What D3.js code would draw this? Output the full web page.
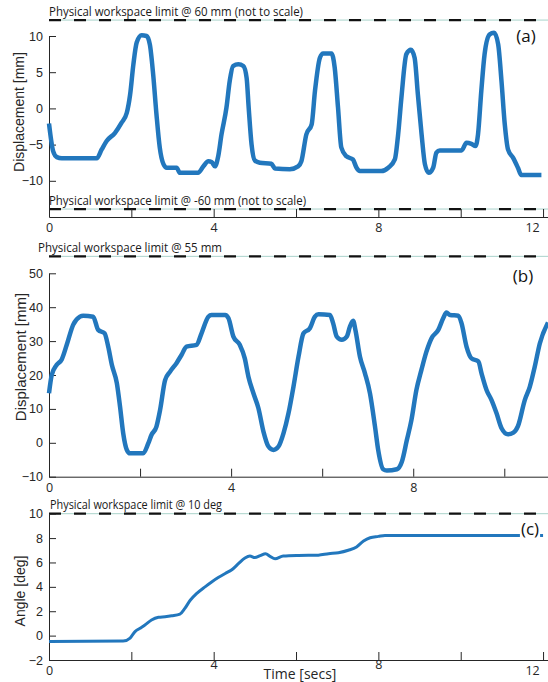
<!DOCTYPE html>
<html><head><meta charset="utf-8">
<script src="https://cdn.jsdelivr.net/npm/d3@7"></script>
<style>body{margin:0;background:#fff}svg{display:block}</style>
</head><body>
<script>
// ---- Data ----
// Panel (a): displacement [mm] vs time [s]
const tA = [0,0.1,0.19,0.31,1.16,1.28,1.4,1.6,1.76,1.89,1.97,2.05,2.13,2.25,2.37,2.45,2.53,2.61,2.69,2.78,2.86,3.1,3.18,3.62,3.75,3.87,3.95,4.03,4.11,4.19,4.31,4.39,4.47,4.6,4.72,4.8,4.85,4.92,5.0,5.12,5.4,5.49,5.85,6.05,6.13,6.25,6.38,6.46,6.58,6.66,6.86,6.94,7.02,7.1,7.22,7.38,7.47,7.55,8.07,8.24,8.4,8.48,8.56,8.68,8.79,8.88,8.96,9.05,9.13,9.22,9.33,9.41,9.49,10.02,10.14,10.26,10.36,10.42,10.5,10.58,10.7,10.81,10.91,10.99,11.07,11.15,11.27,11.39,11.47,11.96];
const vA = [-2.1,-5.9,-6.73,-6.9,-6.9,-5.67,-4.5,-3.4,-2.0,-0.6,1.9,6.1,9.1,10.1,10.0,8.8,4.7,-0.8,-5.4,-7.7,-8.2,-8.2,-8.9,-8.9,-8.0,-7.3,-7.4,-8.0,-6.6,-3.6,0.1,3.8,5.85,6.1,5.85,4.2,0.1,-5.0,-7.2,-7.5,-7.65,-8.3,-8.4,-8.0,-7.3,-3.6,-2.2,2.4,7.0,7.6,7.6,5.6,0.1,-5.4,-6.6,-7.05,-8.2,-8.66,-8.66,-8.2,-7.05,-3.6,1.5,7.5,8.1,7.0,1.9,-3.6,-7.7,-8.9,-8.2,-6.1,-5.8,-5.8,-4.75,-4.9,-5.2,-3.6,2.4,7.5,10.2,10.46,8.85,3.8,-2.2,-5.7,-6.8,-8.2,-9.2,-9.2];
// Panel (b): displacement [mm] vs time [s]
const tB = [0,0.06,0.17,0.28,0.39,0.53,0.68,0.75,0.97,1.08,1.22,1.3,1.38,1.49,1.56,1.63,1.71,1.78,2.07,2.18,2.25,2.36,2.44,2.55,2.66,2.8,2.91,3.02,3.24,3.35,3.5,3.57,3.87,3.94,4.05,4.19,4.3,4.38,4.49,4.6,4.71,4.82,4.93,5.04,5.15,5.26,5.37,5.48,5.59,5.73,5.84,5.92,6.17,6.24,6.32,6.43,6.54,6.61,6.68,6.73,6.83,6.94,7.05,7.16,7.23,7.34,7.42,7.64,7.75,7.86,7.96,8.07,8.18,8.29,8.4,8.55,8.66,8.73,8.81,8.99,9.06,9.17,9.28,9.43,9.5,9.61,9.72,9.83,9.94,10.08,10.2,10.3,10.45,10.56,10.67,10.78,10.96];
const vB = [14.6,20,23,24.6,28.9,34.8,37.2,37.5,37.2,33.3,32.3,28.4,23,17.6,10.7,2.8,-2.1,-3.1,-3.1,-0.2,2.3,4.8,9.7,18.5,21,23.5,25.9,28.4,28.9,32.3,37.2,37.7,37.7,36.8,31.3,28.9,24.9,19.5,14.6,10.2,3.3,-1.1,-2.1,-1.1,2.8,8.7,16.6,25.4,32.3,33.8,37.2,37.9,37.7,35.3,31.3,30.4,31.3,34.3,36,33.3,25.4,20.5,14.6,4.8,-2.1,-7.8,-8.2,-7.8,-5.6,0.8,6.7,15.6,21.5,26.9,30.8,33.3,36.8,38.4,37.7,37.5,35.3,28.4,24.9,24,20.5,15.6,12.6,8.7,4.3,2.5,3,4.9,12.6,16.5,22.5,29.3,35.5];
// Panel (c): angle [deg] vs time [s]
const tC = [0,1.8,1.97,2.09,2.21,2.33,2.49,2.66,2.82,2.98,3.18,3.3,3.43,3.59,3.79,3.95,4.11,4.28,4.44,4.6,4.76,4.88,5.0,5.13,5.26,5.37,5.49,5.69,6.06,6.54,6.79,7.03,7.27,7.47,7.64,7.8,8.0,8.16,12];
const vC = [-0.49,-0.45,-0.2,0.33,0.6,0.87,1.28,1.5,1.55,1.63,1.77,2.23,2.9,3.46,4.0,4.4,4.76,5.1,5.4,5.9,6.37,6.53,6.4,6.56,6.72,6.5,6.3,6.53,6.58,6.6,6.72,6.8,7.0,7.27,7.76,8.03,8.14,8.22,8.22];
// Workspace limits (a: drawn "not to scale" positions)
const limitA = [12.2, -13.9];
const limitB = [55];
const limitC = [10];
const limitTextA = ["Physical workspace limit @ 60 mm (not to scale)", "Physical workspace limit @ -60 mm (not to scale)"];
const limitTextB = ["Physical workspace limit  @ 55 mm"];
const limitTextC = ["Physical workspace limit @ 10 deg"];
const yTicksA = [-10,-5,0,5,10];
const yTicksB = [-10,0,10,20,30,40,50];
const yTicksC = [-2,0,2,4,6,8,10];
const xTicks = [0,2,4,6,8,10,12];

// ---- Drawing ----
const W = 548, H = 682;
const svg = d3.select("body").append("svg").attr("width", W).attr("height", H);
const BLUE = "#2277bd", AX = "#262626";
const tickFont = "'Liberation Sans', Arial, sans-serif";
const myriad = "'Open Sans', 'Noto Sans', sans-serif";

function panel(opt) {
  const g = svg.append("g");
  const x = d3.scaleLinear().domain(opt.xDomain).range([49, 548]);
  const y = d3.scaleLinear().domain(opt.yDomain).range(opt.yRange);

  // dashed limit lines
  opt.limits.forEach((L, i) => {
    const yy = y(L);
    g.append("line").attr("x1", 49).attr("x2", 548).attr("y1", yy).attr("y2", yy)
      .attr("stroke", "#a9d3cb").attr("stroke-width", 1);
    g.append("line").attr("x1", 49).attr("x2", 548).attr("y1", yy).attr("y2", yy)
      .attr("stroke", "#111").attr("stroke-width", 2.2).attr("stroke-dasharray", "12,13");
    g.append("text").attr("x", opt.limitTextX[i]).attr("y", yy - opt.limitTextGap[i])
      .attr("font-family", myriad).attr("font-size", 12.5).attr("fill", "#1a1a1a")
      .attr("textLength", opt.limitTextLen[i]).attr("lengthAdjust", "spacingAndGlyphs")
      .text(opt.limitText[i]);
  });

  // axes
  const ya = g.append("g").attr("transform", "translate(49,0)")
    .call(d3.axisLeft(y).tickValues(opt.yTicks).tickSizeInner(-7).tickSizeOuter(0).tickPadding(6));
  ya.selectAll("text").attr("font-family", tickFont).attr("font-size", 12.5).attr("fill", AX);
  const xa = g.append("g").attr("transform", `translate(0,${opt.yRange[0]})`)
    .call(d3.axisBottom(x).tickValues(opt.xTicks).tickSizeInner(-8).tickSizeOuter(0).tickPadding(6)
      .tickFormat(d => d % 4 === 0 ? d : ""));
  xa.selectAll("text").attr("font-family", myriad).attr("font-size", 12.5).attr("fill", AX);
  xa.selectAll(".tick").filter(d => d === 12).select("text").attr("dx", -11);
  if (opt.raise) xa.selectAll(".tick").filter(d => d === 4 || d === 8).select("text").attr("dy", "0.2em");
  [ya, xa].forEach(a => { a.select(".domain").attr("stroke", AX); a.selectAll(".tick line").attr("stroke", AX); });

  // data line
  const line = d3.line().x(d => x(d[0])).y(d => y(d[1])).curve(d3.curveMonotoneX);
  g.append("path").datum(opt.t.map((t, i) => [t, opt.v[i]]))
    .attr("d", line).attr("fill", "none").attr("stroke", BLUE)
    .attr("stroke-width", opt.lw).attr("stroke-linejoin", "round");

  // y label
  g.append("text").attr("transform", `translate(${opt.ylabX},${opt.ylabY}) rotate(-90)`)
    .attr("text-anchor", "middle").attr("dominant-baseline", "central")
    .attr("font-family", tickFont).attr("font-size", opt.ylabSize).attr("fill", AX).text(opt.ylab);

  // panel letter
  const lt = g.append("text").attr("x", opt.letterX).attr("y", opt.letterY)
    .attr("text-anchor", "middle").attr("dominant-baseline", "central")
    .attr("font-family", myriad).attr("font-size", 17).attr("fill", "#111").text(opt.letter);
  if (opt.letterBg) {
    const b = lt.node().getBBox();
    g.insert("rect", () => lt.node()).attr("x", b.x - 1).attr("y", b.y).attr("width", b.width + 2).attr("height", b.height).attr("fill", "#fff");
  }
  return {x, y, g};
}

panel({xDomain: [0, 12.12], yDomain: [-15, 10], yRange: [217, 36], yTicks: yTicksA, xTicks: xTicks,
  limits: limitA, limitText: limitTextA, limitTextX: [49, 49], limitTextGap: [4, 4], limitTextLen: [254, 257],
  t: tA, v: vA, lw: 4.5, ylab: "Displacement [mm]", ylabX: 19, ylabY: 112, ylabSize: 14,
  letter: "(a)", letterX: 526, letterY: 35});

panel({xDomain: [0, 10.96], yDomain: [-10, 50], yRange: [476.7, 273.3], yTicks: yTicksB, xTicks: [2,4,6,8,10,0],
  limits: limitB, limitText: limitTextB, limitTextX: [38], limitTextGap: [4], limitTextLen: [184],
  t: tB, v: vB, lw: 4.5, ylab: "Displacement [mm]", ylabX: 20, ylabY: 357, ylabSize: 15,
  letter: "(b)", letterX: 523, letterY: 275});

panel({xDomain: [0, 12.12], yDomain: [-2, 10], yRange: [660, 513.7], yTicks: yTicksC, xTicks: xTicks,
  limits: limitC, limitText: limitTextC, limitTextX: [50], limitTextGap: [5], limitTextLen: [172],
  t: tC, v: vC, lw: 3, ylab: "Angle [deg]", ylabX: 20, ylabY: 591, ylabSize: 14,
  letter: "(c)", letterX: 530, letterY: 528, letterBg: true, raise: true});

svg.append("text").attr("x", 300).attr("y", 673).attr("text-anchor", "middle").attr("dominant-baseline", "central")
  .attr("font-family", myriad).attr("font-size", 14).attr("fill", AX).text("Time [secs]");
</script>
</body></html>
